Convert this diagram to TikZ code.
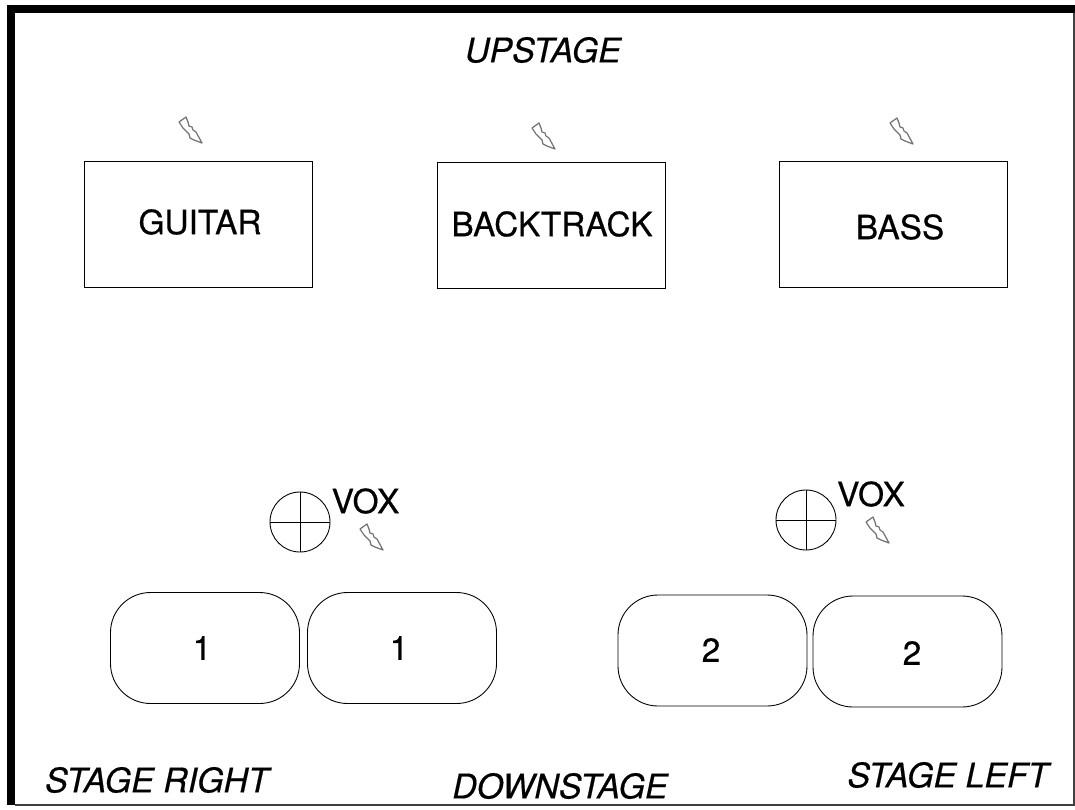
\documentclass[tikz,border=0pt]{standalone}
\usepackage{fontspec}
\setmainfont[RawFeature={embolden=0.5}]{TeX Gyre Heros}
\usepackage{tikz}
\usetikzlibrary{positioning}
\usetikzlibrary{calc}
\tikzset{
	amp/.style={draw, line width=0.5pt, minimum width=228*0.2mm, minimum height=126*0.2mm, inner sep=0pt},
	wedge/.style={draw, line width=0.5pt, rounded corners=8mm, minimum width=189*0.2mm, minimum height=111*0.2mm, inner sep=0pt},
	mic/.style={draw, circle, line width=0.5pt, minimum size=60*0.2mm, inner sep=0pt},
	tag/.style={inner sep=0pt, font=\fontsize{19}{20}\selectfont},
	side/.style={inner sep=0pt, font=\fontsize{19.3}{20}\selectfont\itshape},
	bolt/.pic={
		\draw[black!55, line width=0.7pt, line join=round, fill=white] (-11,-9) -- (-4,-14) -- (-2,-9) -- (-1,-5) -- (2,-4) -- (3,-1) -- (6,1) -- (12,12) -- (4,9) -- (0,7) -- (-1,3) -- (-3,1) -- (-7,-3) -- cycle;
	}
}
\begin{document}
\begin{tikzpicture}[x=0.2mm, y=-0.2mm]
	\useasboundingbox (0,0) rectangle (1075,809);
	% frame of the stage
	\fill[black] (7,5) rectangle (1075,13);
	\fill[black] (7,5) rectangle (15,805);
	\draw[black!75, line width=0.6pt] (15,805) -- (1074,805) -- (1074,13);
	% backline
	\foreach \x/\y/\ampName in {198/224/guitar, 551/225/backtrack, 893/224/bass}
	{
		\node[amp] (\ampName) at (\x,\y) {};
	}
	\node[tag] (guitarText) at (200,222) {GUITAR};
	\node[tag] (backtrackText) at (552,224) {BACKTRACK};
	\node[tag] (bassText) at (900,227) {BASS};
	\foreach \x/\y in {190/131, 543/137, 901/132, 371/538, 877/531}
	{
		\pic at (\x,\y) {bolt};
	}
	% vocal mics
	\foreach \x/\y/\micName in {300/522/micRight, 806/520/micLeft}
	{
		\node[mic] (\micName) at (\x,\y) {};
		\draw[line width=0.5pt] (\micName.north) -- (\micName.south);
		\draw[line width=0.5pt] (\micName.west) -- (\micName.east);
	}
	\node[tag] (voxRight) at (365.5,501) {VOX};
	\node[tag] (voxLeft) at (871,494) {VOX};
	% monitors
	\foreach \x/\y/\wedgeName in {205/648/wedgeA, 402/648/wedgeB, 712.5/650.5/wedgeC, 907.5/651.5/wedgeD}
	{
		\node[wedge] (\wedgeName) at (\x,\y) {};
	}
	\node[tag] (oneA) at (202,648) {1};
	\node[tag] (oneB) at (399,648) {1};
	\node[tag] (twoA) at (711,650) {2};
	\node[tag] (twoB) at (912,653) {2};
	% stage directions
	\node[side] (upstage) at (543,50) {UPSTAGE};
	\node[side] (stageRight) at (157,780) {STAGE RIGHT};
	\node[side] (downstage) at (560,786) {DOWNSTAGE};
	\node[side] (stageLeft) at (948,775) {STAGE LEFT};
\end{tikzpicture}
\end{document}
